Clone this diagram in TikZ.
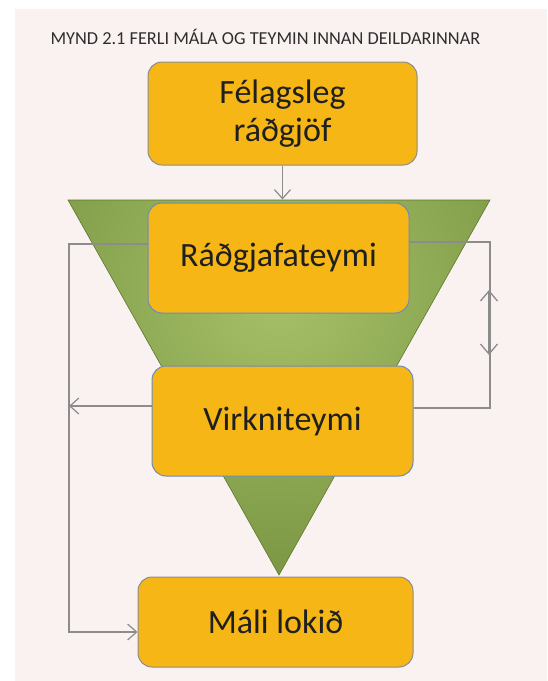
\documentclass[tikz,border=0pt]{standalone}
\usepackage{fontspec}
\setmainfont{Carlito}
\usepackage{tikz}
\usetikzlibrary{arrows.meta}
\usetikzlibrary{calc}

\definecolor{bgpink}{RGB}{250,242,241}
\definecolor{boxorange}{RGB}{246,183,22}
\definecolor{linegray}{RGB}{140,140,140}
\definecolor{boxblue}{RGB}{105,140,185}
\definecolor{greenlight}{RGB}{166,193,104}
\definecolor{greendark}{RGB}{92,120,42}

\begin{document}
\begin{tikzpicture}[x=1pt,y=-1pt,
        box/.style={draw=linegray, fill=boxorange, rounded corners=14pt, line width=1pt,
            inner sep=0pt, align=center, text=black!88, font=\fontsize{34}{38}\selectfont},
        link/.style={draw=linegray, line width=1.2pt},
        barb/.style={-{Straight Barb[length=9pt,width=16pt]}}]
                \useasboundingbox (0,0) rectangle (547,681);
                \fill[bgpink] (15,9) rectangle (547,681);
                \node[anchor=base west, text=black!82, font=\fontsize{18.3}{20}\selectfont] (title) at (47,44)
                    {MYND 2.1 FERLI MÁLA OG TEYMIN INNAN DEILDARINNAR};
                \coordinate (tl) at (68,200);
                \coordinate (tr) at (490,200);
                \coordinate (apex) at (279,575);
                \coordinate (lft) at (69,0);
                \coordinate (rgt) at (490,0);
                \coordinate (up) at (489,290);
                \coordinate (dn) at (489,355);
                \begin{scope}
                    \clip (tl) -- (tr) -- (apex) -- cycle;
                    \shade[inner color=greenlight, outer color=greendark] (279,290) circle (500);
                \end{scope}
                \draw[greendark, line width=0.6pt] (tl) -- (tr) -- (apex) -- cycle;
                \node[box, minimum width=269pt, minimum height=103pt] (felags) at (282.5,113.5) {Félagsleg\\ráðgjöf};
                \node[box, draw=boxblue, minimum width=261pt, minimum height=110pt] (radgj) at (278.5,258) {Ráðgjafateymi};
                \node[box, draw=boxblue, minimum width=261pt, minimum height=110pt] (virkni) at (282.5,421) {Virkniteymi};
                \node[box, minimum width=275pt, minimum height=90pt] (lokid) at (275.5,622) {Máli lokið};
                \draw[link, barb, shorten >=3pt] (felags.south) -- (felags.south |- radgj.north);
                \draw[link, barb] ([yshift=14pt]radgj.west) -- ([yshift=14pt]radgj.west -| lft) |- ([yshift=-10pt]lokid.west);
                \draw[link, barb] ([yshift=15pt]virkni.west) -- ([yshift=15pt]virkni.west -| lft);
                \draw[link] ([yshift=16pt]radgj.east) -- ([yshift=16pt]radgj.east -| rgt) -- ([yshift=13pt]virkni.east -| rgt) -- ([yshift=13pt]virkni.east);
                \draw[link, line width=2.6pt, {Straight Barb[length=10pt,width=17pt,line width=1.3pt]}-{Straight Barb[length=10pt,width=17pt,line width=1.3pt]}] (up) -- (dn);
            \end{tikzpicture}
\end{document}
